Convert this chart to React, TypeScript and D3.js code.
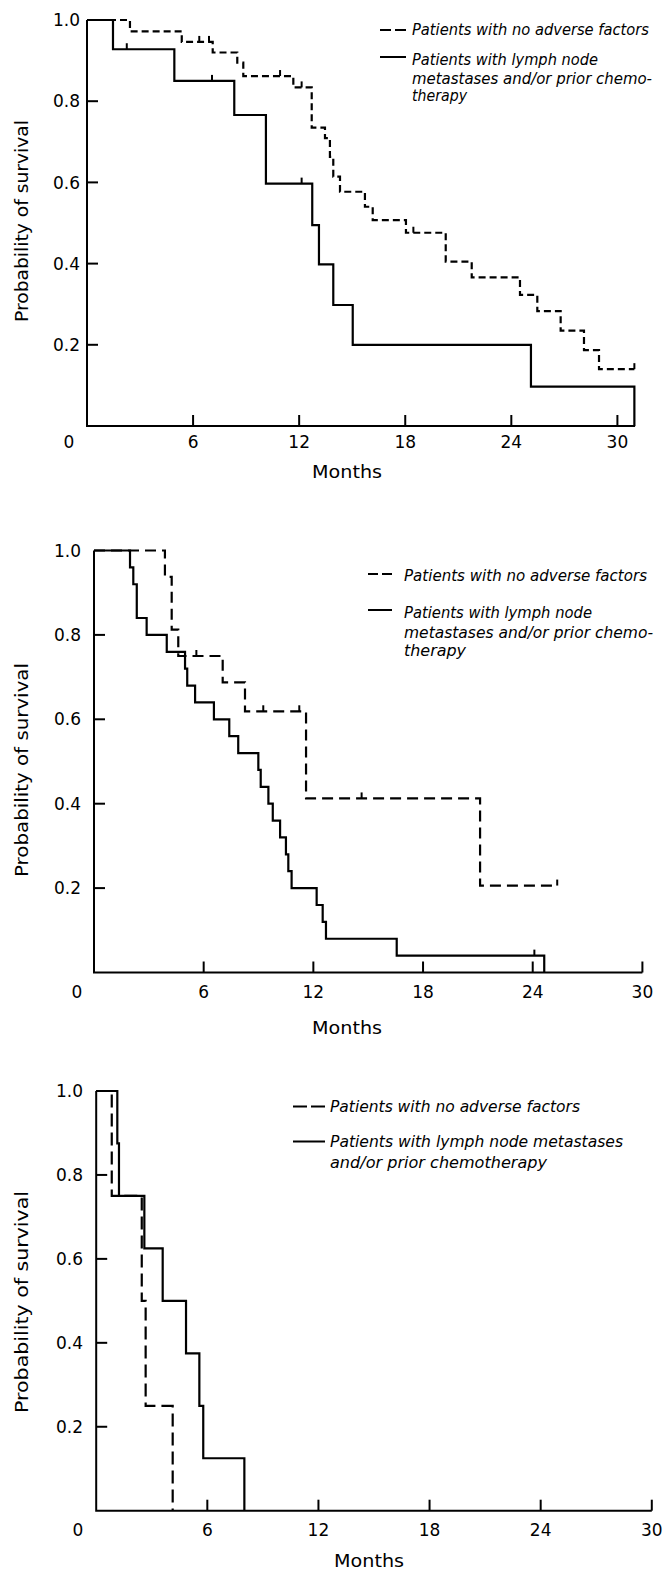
import * as d3 from 'd3';

const W = 665, H = 1570;

// axis ticks
const xTicks = [6, 12, 18, 24, 30];
const yTicks = [0.2, 0.4, 0.6, 0.8];

// legend text
const legendNoAdverse = 'Patients with no adverse factors';
const legendAdverseNarrow = ['Patients with lymph node', 'metastases and/or prior chemo-', 'therapy'];
const legendAdverseWide = ['Patients with lymph node metastases', 'and/or prior chemotherapy'];

// panel 1 (top)
const p1SolidT = [0, 1.47, 4.94, 8.33, 10.12, 12.74, 13.12, 13.93, 15.03, 25.11, 30.96];
const p1SolidS = [1, 0.928, 0.85, 0.766, 0.597, 0.495, 0.398, 0.298, 0.2, 0.097, 0];
const p1SolidCens = [2.25, 7.07, 12.14];
const p1DashT = [0, 2.43, 5.36, 7.11, 8.5, 8.84, 11.67, 12.71, 13.46, 13.74, 13.93, 14.31, 15.72, 16.16, 18.04, 20.29, 21.76, 24.49, 25.47, 26.79, 28.11, 28.96, 30.96];
const p1DashS = [1, 0.972, 0.946, 0.92, 0.895, 0.862, 0.834, 0.735, 0.709, 0.663, 0.614, 0.577, 0.54, 0.507, 0.476, 0.405, 0.366, 0.323, 0.283, 0.235, 0.187, 0.14, 0.14];
const p1DashCens = [6.35, 6.9, 10.92, 12.14, 18.46, 30.96];

// panel 2 (middle)
const p2SolidT = [0, 1.97, 2.15, 2.34, 2.88, 3.98, 4.98, 5.1, 5.53, 6.56, 7.4, 7.89, 8.99, 9.12, 9.54, 9.78, 10.18, 10.5, 10.63, 10.81, 12.18, 12.51, 12.69, 16.56, 24.63];
const p2SolidS = [1, 0.96, 0.92, 0.84, 0.8, 0.76, 0.72, 0.68, 0.64, 0.6, 0.56, 0.52, 0.48, 0.44, 0.4, 0.36, 0.32, 0.28, 0.24, 0.2, 0.16, 0.12, 0.08, 0.04, 0];
const p2SolidCens = [24.09];
const p2DashT = [0, 3.88, 4.25, 4.61, 7.04, 8.26, 11.6, 21.12, 25.34];
const p2DashS = [1, 0.9375, 0.8125, 0.75, 0.6875, 0.619, 0.4125, 0.206, 0.206];
const p2DashCens = [5.6, 9.26, 11.23, 14.64, 25.34];

// panel 3 (bottom)
const p3SolidT = [0, 1.14, 1.23, 2.6, 3.59, 4.85, 5.57, 5.78, 8.0];
const p3SolidS = [1, 0.875, 0.75, 0.625, 0.5, 0.375, 0.25, 0.125, 0];
const p3DashT = [0, 0.84, 2.46, 2.67, 4.13];
const p3DashS = [1, 0.75, 0.5, 0.25, 0];

const zip = (t: number[], s: number[]) => t.map((v, i) => [v, s[i]] as [number, number]);

const panels = [
  {
    x0: 87, ppm: 17.68, xMax: 31, yTop: 20, yBottom: 426, dash: '7,4',
    labelRight: 80, zeroX: 69, tickDy: 16, monthsX: 347, monthsY: 478, yLabelY: 221, yLabelLen: 202,
    legend: {
      sx1: 380, sx2: 406, tx: 412, dashY: 30, dashBase: 35, solidY: 57, bases: [65, 83.5, 100.5],
      lines: legendAdverseNarrow, w0: 237, widths: [186, 240, 55],
    },
    solid: zip(p1SolidT, p1SolidS), solidCens: p1SolidCens,
    dashed: zip(p1DashT, p1DashS), dashCens: p1DashCens,
  },
  {
    x0: 94, ppm: 18.28, xMax: 30, yTop: 550.5, yBottom: 972.5, dash: '11,6',
    labelRight: 81, zeroX: 77, tickDy: 19, monthsX: 347, monthsY: 1034, yLabelY: 770, yLabelLen: 214,
    legend: {
      sx1: 368, sx2: 392, tx: 404, dashY: 574, dashBase: 580.5, solidY: 610, bases: [618, 638, 655.5],
      lines: legendAdverseNarrow, w0: 243, widths: [188, 249, 62],
    },
    solid: zip(p2SolidT, p2SolidS), solidCens: p2SolidCens,
    dashed: zip(p2DashT, p2DashS), dashCens: p2DashCens,
  },
  {
    x0: 96.2, ppm: 18.52, xMax: 30, yTop: 1091, yBottom: 1510.7, dash: '13,6',
    labelRight: 83, zeroX: 78, tickDy: 19, monthsX: 369, monthsY: 1567, yLabelY: 1302, yLabelLen: 222,
    legend: {
      sx1: 293, sx2: 325, tx: 330, dashY: 1106.5, dashBase: 1112, solidY: 1141.5, bases: [1147, 1168],
      lines: legendAdverseWide, w0: 250, widths: [293, 217],
    },
    solid: zip(p3SolidT, p3SolidS), solidCens: [] as number[],
    dashed: zip(p3DashT, p3DashS), dashCens: [] as number[],
  },
];

const upright = { fontFamily: 'DejaVu Sans', fill: '#000' };
const italic = { fontFamily: 'DejaVu Sans', fontStyle: 'italic', fill: '#000' };

function Panel({ p }: { p: typeof panels[number] }) {
  const x = d3.scaleLinear().domain([0, p.xMax]).range([p.x0, p.x0 + p.xMax * p.ppm]);
  const y = d3.scaleLinear().domain([0, 1]).range([p.yBottom, p.yTop]);
  const line = d3.line<[number, number]>().x(d => x(d[0])).y(d => y(d[1])).curve(d3.curveStepAfter);
  const level = (pts: [number, number][], t: number) => {
    let s = 1;
    pts.forEach(d => { if (d[0] <= t) s = d[1]; });
    return s;
  };
  const lg = p.legend;
  return (
    <g>
      {/* axes */}
      <path d={`M${x(0)},${y(1)}V${y(0)}H${x(p.xMax)}`} fill="none" stroke="#000" strokeWidth={2} />
      {yTicks.map(v => (
        <g key={v}>
          <line x1={x(0)} x2={x(0) + 11} y1={y(v)} y2={y(v)} stroke="#000" strokeWidth={2} />
          <text x={p.labelRight} y={y(v)} dy="0.36em" textAnchor="end" fontSize={17} style={upright}>{v.toFixed(1)}</text>
        </g>
      ))}
      <text x={p.labelRight} y={y(1)} dy="0.36em" textAnchor="end" fontSize={17} style={upright}>1.0</text>
      {xTicks.map(v => (
        <g key={v}>
          <line x1={x(v)} x2={x(v)} y1={y(0)} y2={y(0) - 11} stroke="#000" strokeWidth={2} />
          <text x={x(v)} y={y(0) + p.tickDy} dy="0.36em" textAnchor="middle" fontSize={17} style={upright}>{v}</text>
        </g>
      ))}
      <text x={p.zeroX} y={y(0) + p.tickDy} dy="0.36em" textAnchor="middle" fontSize={17} style={upright}>0</text>
      <text x={p.monthsX} y={p.monthsY} textAnchor="middle" fontSize={18} textLength={70}
        lengthAdjust="spacingAndGlyphs" style={upright}>Months</text>
      <text transform={`translate(28,${p.yLabelY}) rotate(-90)`} textAnchor="middle" fontSize={17}
        textLength={p.yLabelLen} lengthAdjust="spacingAndGlyphs" style={upright}>Probability of survival</text>

      {/* curves */}
      <path d={line(p.dashed) ?? ''} fill="none" stroke="#000" strokeWidth={2.2} strokeDasharray={p.dash} />
      <path d={line(p.solid) ?? ''} fill="none" stroke="#000" strokeWidth={2.2} />
      {p.dashCens.map((t, i) => (
        <line key={'d' + i} x1={x(t)} x2={x(t)} y1={y(level(p.dashed, t))} y2={y(level(p.dashed, t)) - 6} stroke="#000" strokeWidth={2} />
      ))}
      {p.solidCens.map((t, i) => (
        <line key={'s' + i} x1={x(t)} x2={x(t)} y1={y(level(p.solid, t))} y2={y(level(p.solid, t)) - 6} stroke="#000" strokeWidth={2} />
      ))}

      {/* legend */}
      <line x1={lg.sx1} x2={lg.sx2} y1={lg.dashY} y2={lg.dashY} stroke="#000" strokeWidth={2} strokeDasharray={`${(lg.sx2 - lg.sx1 - 4) / 2},4`} />
      <text x={lg.tx} y={lg.dashBase} fontSize={15} textLength={lg.w0} lengthAdjust="spacingAndGlyphs" style={italic}>{legendNoAdverse}</text>
      <line x1={lg.sx1} x2={lg.sx2} y1={lg.solidY} y2={lg.solidY} stroke="#000" strokeWidth={2} />
      {lg.lines.map((s, i) => (
        <text key={i} x={lg.tx} y={lg.bases[i]} fontSize={15} textLength={lg.widths[i]} lengthAdjust="spacingAndGlyphs" style={italic}>{s}</text>
      ))}
    </g>
  );
}

export default function App() {
  return (
    <svg width={W} height={H} style={{ position: 'absolute', left: 0, top: 0, background: '#fff' }}>
      {panels.map((p, i) => <Panel key={i} p={p} />)}
    </svg>
  );
}
